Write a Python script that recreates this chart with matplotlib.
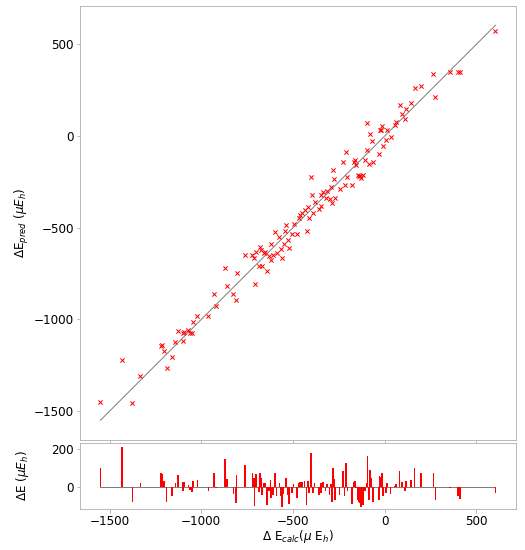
import numpy as np
import matplotlib.pyplot as plt

# calculated energy differences (micro Hartree) and residuals pred - calc
e_calc = [-1550, -1432, -1376, -1332, -1218, -1212, -1205, -1189, -1158, -1141,
          -1127, -1101, -1098, -1094, -1070, -1060, -1049, -1046, -1021, -961,
          -932, -921, -869, -858, -825, -812, -807, -763, -721, -714,
          -709, -702, -685, -678, -672, -669, -658, -651, -642, -632,
          -622, -619, -609, -596, -589, -574, -567, -560, -551, -541,
          -536, -527, -520, -505, -496, -478, -469, -460, -449, -436,
          -425, -416, -413, -403, -398, -389, -382, -358, -348, -345,
          -336, -322, -315, -300, -291, -288, -282, -276, -269, -245,
          -227, -218, -211, -203, -178, -169, -162, -154, -147, -142,
          -135, -127, -118, -107, -98, -93, -86, -78, -71, -64,
          -31, -27, -20, -15, -7, 9, 12, 33, 55, 64,
          82, 94, 111, 118, 146, 164, 200, 267, 278, 358,
          400, 411, 605]
resid = [99, 212, -79, 22, 74, 70, 32, -76, -49, 20,
         65, 29, -22, 25, 11, -13, -25, 32, 38, -22,
         72, -5, 149, 41, -36, -81, 63, 115, 74, 50,
         -99, 68, -25, 74, 50, -40, 23, 20, -94, -22,
         36, -58, -40, 72, -49, 23, -49, -106, -36, 23,
         50, -40, -90, -31, 14, -58, 20, 29, 29, 32,
         -94, 32, -31, 182, 77, -31, 23, -40, -31, 23,
         29, -18, 14, -43, 14, -76, 99, 41, -67, -43,
         86, -49, 126, -22, -90, 29, 32, -5, -67, -76,
         -85, -103, -94, -22, 23, 162, -67, 90, 47, -76,
         -67, 59, 54, 72, -49, -31, 23, -36, 7, 14,
         86, 29, -18, 32, 36, 101, 72, 74, -67, -7,
         -49, -61, -31]

e_calc = np.array(e_calc, dtype=float)
resid = np.array(resid, dtype=float)
e_pred = e_calc + resid

plt.rcParams['font.family'] = ['DejaVu Sans']
plt.rcParams['font.size'] = 12
spine_c = '#aaaaaa'

fig = plt.figure(figsize=(525 / 72, 550 / 72), dpi=72)
ax = fig.add_axes([0.152, 0.2, 0.831, 0.79])
ax2 = fig.add_axes([0.152, 0.0745, 0.831, 0.12], sharex=ax)

# parity plot
lims = [e_calc.min(), e_calc.max()]
ax.plot(lims, lims, color='grey', lw=1)
ax.scatter(e_calc, e_pred, marker='x', color='red', s=18, lw=1.0, zorder=3)
ax.set_ylabel(r'$\Delta$E$_{pred}$ ($\mu E_h$)')
ax.tick_params(labelbottom=False)

# residuals
ax2.plot(lims, [0, 0], color='grey', lw=1)
ax2.bar(e_calc, resid, width=9, color='red', zorder=3)
ax2.set_ylim(-115, 232)
ax2.set_yticks([0, 200])
ax2.set_xlabel(r'$\Delta$ E$_{calc}$($\mu$ E$_h$)', labelpad=0)
ax2.set_ylabel(r'$\Delta$E ($\mu E_h$)')

for a in (ax, ax2):
    for s in a.spines.values():
        s.set_color(spine_c)
    a.tick_params(color=spine_c, labelsize=12, pad=2.5)

ax.yaxis.set_label_coords(-0.113, 0.5)
ax2.yaxis.set_label_coords(-0.113, 0.5)

fig.savefig('out.png', dpi=72)
